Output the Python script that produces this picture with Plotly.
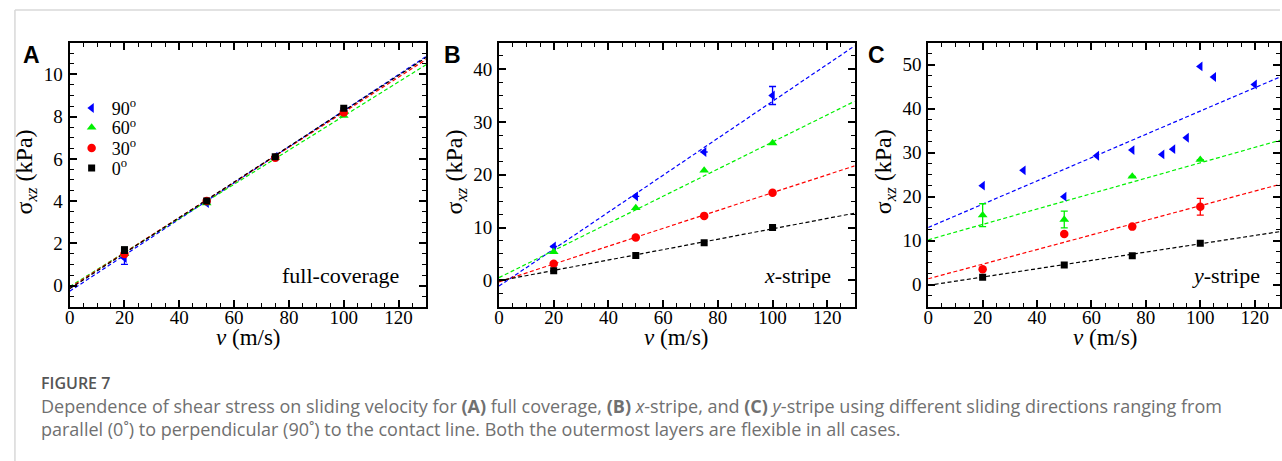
import numpy as np
import plotly.graph_objects as go

W, H = 1282, 461

# ---------------- data ----------------
angles = ["90", "60", "30", "0"]
colors = ["#0000ff", "#00f000", "#ff0000", "#000000"]
symbols = ["triangle-left", "triangle-up", "circle", "square"]
msizes = [8.5, 8.5, 8.5, 7]

v_std = [20, 50, 75, 100]

# Panel A: full coverage
a_90 = [1.3, 3.9, 6.1, 8.3]
a_60 = [1.5, 3.9, 6.05, 8.05]
a_30 = [1.5, 4.0, 6.05, 8.2]
a_0 = [1.68, 4.0, 6.1, 8.4]
a_err_90 = [0.3, 0, 0, 0]
a_err_60 = [0, 0, 0, 0]
a_err_30 = [0, 0, 0, 0]
a_err_0 = [0.15, 0, 0, 0]
a_fit_int = [-0.27, -0.05, -0.1, -0.15]
a_fit_slope = [0.0855, 0.0808, 0.0831, 0.0842]

# Panel B: x-stripe
b_90 = [6.4, 15.9, 24.3, 35.0]
b_60 = [5.4, 13.7, 20.8, 26.0]
b_30 = [3.15, 8.1, 12.2, 16.6]
b_0 = [1.8, 4.7, 7.1, 10.0]
b_err_90 = [0, 0, 0, 1.7]
b_err_60 = [0, 0, 0, 0]
b_err_30 = [0, 0, 0, 0]
b_err_0 = [0, 0, 0, 0]
b_fit_int = [-1.1, 0.5, -0.3, -0.1]
b_fit_slope = [0.350, 0.257, 0.169, 0.0985]

# Panel C: y-stripe
c_v_90 = [20, 35, 50, 62, 75, 86, 90, 95, 100, 105, 120]
c_90 = [22.5, 26.0, 20.0, 29.3, 30.6, 29.6, 30.8, 33.4, 49.6, 47.2, 45.5]
c_60 = [15.8, 14.8, 24.6, 28.4]
c_30 = [3.5, 11.5, 13.2, 17.7]
c_0 = [1.7, 4.5, 6.6, 9.4]
c_err_90 = [0] * 11
c_err_60 = [2.6, 1.9, 0, 0]
c_err_30 = [0, 0, 0, 1.9]
c_err_0 = [0, 0, 0, 0]
c_fit_int = [13.0, 10.2, 1.35, -0.15]
c_fit_slope = [0.2646, 0.175, 0.166, 0.0945]

fit_x = np.array([0.0, 130.0])

panels = [
    dict(xs=[v_std] * 4, ys=[a_90, a_60, a_30, a_0],
         errs=[a_err_90, a_err_60, a_err_30, a_err_0],
         fi=a_fit_int, fs=a_fit_slope),
    dict(xs=[v_std] * 4, ys=[b_90, b_60, b_30, b_0],
         errs=[b_err_90, b_err_60, b_err_30, b_err_0],
         fi=b_fit_int, fs=b_fit_slope),
    dict(xs=[c_v_90, v_std, v_std, v_std], ys=[c_90, c_60, c_30, c_0],
         errs=[c_err_90, c_err_60, c_err_30, c_err_0],
         fi=c_fit_int, fs=c_fit_slope),
]

# ---------------- layout geometry (pixels) ----------------
x_dom_px = [(65, 423.3), (496.7, 854.3), (928.3, 1282)]
x_ranges = [[0, 130], [0, 130], [0, 129.3]]
y_top_px, y_bot_px = 42.7, 306.7
y_ranges = [[-1, 11.5], [-5, 45], [-5, 55]]
y_dticks = [2, 10, 10]
y_minor = [0.5, 2.5, 2.5]

SERIF = "Liberation Serif, Times New Roman, serif"

fig = go.Figure()

for p, pan in enumerate(panels):
    xa = "x" if p == 0 else f"x{p+1}"
    ya = "y" if p == 0 else f"y{p+1}"
    for k in range(4):
        fy = pan["fi"][k] + pan["fs"][k] * fit_x
        fig.add_trace(go.Scatter(
            x=fit_x, y=fy, mode="lines", xaxis=xa, yaxis=ya,
            line=dict(color=colors[k], width=1.2, dash="4px,2.5px"),
            showlegend=False, hoverinfo="skip"))
    for k in range(4):
        errs = pan["errs"][k]
        has_err = any(e > 0 for e in errs)
        fig.add_trace(go.Scatter(
            x=pan["xs"][k], y=pan["ys"][k], mode="markers", xaxis=xa, yaxis=ya,
            marker=dict(symbol=symbols[k], size=msizes[k], color=colors[k],
                        line=dict(width=0)),
            error_y=dict(type="data", array=errs, visible=has_err,
                         color=colors[k], thickness=1.3, width=3.5),
            name=f"{angles[k]}<sup>o</sup>",
            showlegend=(p == 0),
            legend=("legend" if k == 0 else f"legend{k+1}")))


def axis_common():
    return dict(
        showline=True, linecolor="black", linewidth=2, mirror="ticks",
        ticks="inside", ticklen=7, tickwidth=1.5, tickcolor="black",
        showgrid=False, zeroline=False,
        tickfont=dict(family=SERIF, size=19, color="black"),
    )


y_dom = [1 - y_bot_px / H, 1 - y_top_px / H]
layout_axes = {}
for p in range(3):
    xn = "xaxis" if p == 0 else f"xaxis{p+1}"
    yn = "yaxis" if p == 0 else f"yaxis{p+1}"
    ya = "y" if p == 0 else f"y{p+1}"
    xa = "x" if p == 0 else f"x{p+1}"
    layout_axes[xn] = dict(
        axis_common(), domain=[x_dom_px[p][0] / W, x_dom_px[p][1] / W],
        range=x_ranges[p], anchor=ya, tick0=0, dtick=20, ticklabelstandoff=-8,
        minor=dict(dtick=5, tick0=0, ticks="inside", ticklen=4, tickwidth=1,
                   tickcolor="black"))
    layout_axes[yn] = dict(
        axis_common(), domain=y_dom, range=y_ranges[p], anchor=xa,
        tick0=0, dtick=y_dticks[p], ticklabelstandoff=1,
        minor=dict(dtick=y_minor[p], tick0=0, ticks="inside", ticklen=4,
                   tickwidth=1, tickcolor="black"))

annotations = []
letters = ["A", "B", "C"]
letter_x = [16, 439, 866]
ytitle_x = [21.5, 453, 885]
xtitle_x = [245, 675.5, 1107]
labels = ["full-coverage", "<i>x</i>-stripe", "<i>y</i>-stripe"]
label_right = [0.929, 0.94, 0.95]
for p in range(3):
    annotations.append(dict(
        text=f"<b>{letters[p]}</b>", x=letter_x[p] / W, y=1 - 55 / H,
        xref="paper", yref="paper", xanchor="left", yanchor="middle",
        showarrow=False,
        font=dict(family="Liberation Sans, Arial, sans-serif", size=23,
                  color="black")))
    annotations.append(dict(
        text="σ<sub><i>xz</i></sub> (kPa)", x=ytitle_x[p] / W,
        y=1 - 172 / H, xref="paper", yref="paper", textangle=-90,
        xanchor="center", yanchor="middle", showarrow=False,
        font=dict(family=SERIF, size=24, color="black")))
    annotations.append(dict(
        text="<i>v</i> (m/s)", x=xtitle_x[p] / W,
        y=1 - 337 / H, xref="paper", yref="paper",
        xanchor="center", yanchor="middle", showarrow=False,
        font=dict(family=SERIF, size=23, color="black")))
    xa = "x" if p == 0 else f"x{p+1}"
    ya = "y" if p == 0 else f"y{p+1}"
    annotations.append(dict(
        text=labels[p], x=label_right[p], y=0.12,
        xref=f"{xa} domain", yref=f"{ya} domain",
        xanchor="right", yanchor="middle", showarrow=False,
        font=dict(family=SERIF, size=22, color="black")))

# caption
CAP = "Open Sans"
annotations.append(dict(
    text="FIGURE 7", x=35 / W, y=1 - 382.5 / H, xref="paper", yref="paper",
    xanchor="left", yanchor="middle", showarrow=False, borderpad=0,
    font=dict(family=CAP, size=16, color="#555555", weight=600)))
annotations.append(dict(
    text=("Dependence of shear stress on sliding velocity for <b>(A)</b> full coverage, "
          "<b>(B)</b> <i>x</i>-stripe, and <b>(C)</b> <i>y</i>-stripe using different "
          "sliding directions ranging from"),
    x=35 / W, y=1 - 405.5 / H, xref="paper", yref="paper",
    xanchor="left", yanchor="middle", showarrow=False, borderpad=0,
    font=dict(family=CAP, size=18, color="#707070")))
annotations.append(dict(
    text=("parallel (0˚) to perpendicular (90˚) to the contact line. "
          "Both the outermost layers are flexible in all cases."),
    x=35 / W, y=1 - 428.5 / H, xref="paper", yref="paper",
    xanchor="left", yanchor="middle", showarrow=False, borderpad=0,
    font=dict(family=CAP, size=18, color="#707070")))

# legends (one per entry for exact row placement)
leg_rows = [108.3, 127.7, 148.3, 168.3]
legends = {}
for k in range(4):
    key = "legend" if k == 0 else f"legend{k+1}"
    legends[key] = dict(
        x=67 / W, y=1 - leg_rows[k] / H, xref="paper", yref="paper",
        xanchor="left", yanchor="middle", bgcolor="rgba(0,0,0,0)",
        borderwidth=0, itemwidth=30,
        font=dict(family=SERIF, size=18, color="black"))

shapes = [
    dict(type="line", xref="paper", yref="paper", x0=10 / W, x1=1, y0=1 - 10 / H,
         y1=1 - 10 / H, line=dict(color="#d8d8d8", width=1.5)),
    dict(type="line", xref="paper", yref="paper", x0=10 / W, x1=10 / W, y0=0,
         y1=1 - 10 / H, line=dict(color="#d8d8d8", width=1.5)),
]

fig.update_layout(
    width=W, height=H, margin=dict(l=0, r=0, t=0, b=0),
    paper_bgcolor="white", plot_bgcolor="white",
    font=dict(family=SERIF, color="black"),
    annotations=annotations, shapes=shapes, **layout_axes, **legends,
)

fig.write_html(
    "out.html",
    config={"displayModeBar": False},
    post_script="document.body.style.margin='0px';document.body.style.overflow='hidden';",
)
